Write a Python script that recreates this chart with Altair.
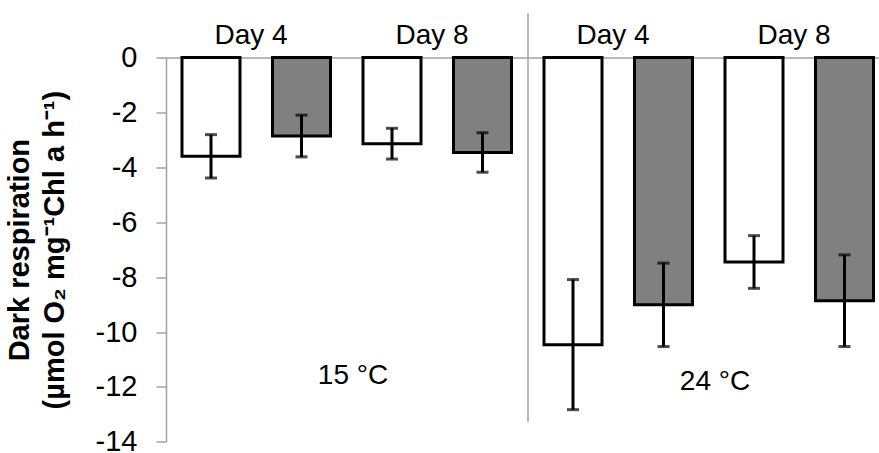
import altair as alt
import pandas as pd

# Dark respiration per temperature, sampling day and treatment
temps = ["15", "15", "15", "15", "24", "24", "24", "24"]
days = ["Day 4", "Day 4", "Day 8", "Day 8", "Day 4", "Day 4", "Day 8", "Day 8"]
treatments = ["Control", "Treated", "Control", "Treated", "Control", "Treated", "Control", "Treated"]
means = [-3.60, -2.86, -3.14, -3.46, -10.46, -9.01, -7.45, -8.86]
sds = [0.79, 0.76, 0.56, 0.72, 2.37, 1.52, 0.96, 1.67]

group_order = ["15|Day 4", "15|Day 8", "24|Day 4", "24|Day 8"]
treatment_order = ["Control", "Treated"]
bar_colors = ["#ffffff", "#808080"]

temp_labels = ["15 °C", "24 °C"]
temp_label_groups = ["15|Day 8", "24|Day 8"]
temp_label_y = [-11.9, -12.1]

df = pd.DataFrame({
    "temp": temps,
    "day": days,
    "treatment": treatments,
    "mean": means,
    "sd": sds,
})
df["group"] = df["temp"] + "|" + df["day"]

labels_df = pd.DataFrame({"label": temp_labels, "group": temp_label_groups, "y": temp_label_y})

FONT = "Liberation Sans"
AXIS_GRAY = "#a0a0a0"

x_scale = alt.Scale(domain=group_order, paddingInner=0.0608, paddingOuter=0, align=0)
y_scale = alt.Scale(domain=[-14, 0], nice=False, zero=False)
offset_scale = alt.Scale(domain=treatment_order, paddingInner=0.359, paddingOuter=0.1188, align=0.744)

x_enc = alt.X(
    "group:N",
    sort=group_order,
    scale=x_scale,
    title=None,
    axis=alt.Axis(
        orient="top",
        labelExpr="split(datum.label, '|')[1]",
        labelAngle=0,
        labelFont=FONT,
        labelFontSize=28,
        labelColor="black",
        labelBaseline="alphabetic",
        labelPadding=14,
        ticks=False,
        tickSize=0,
        domainColor=AXIS_GRAY,
        domainWidth=1.5,
        grid=False,
    ),
)
xoff_enc = alt.XOffset("treatment:N", sort=treatment_order, scale=offset_scale)

base = alt.Chart(df).transform_calculate(
    lower="datum.mean - datum.sd",
    upper="datum.mean + datum.sd",
)

bars = base.mark_bar(stroke="black", strokeWidth=3).encode(
    x=x_enc,
    xOffset=xoff_enc,
    y=alt.Y(
        "mean:Q",
        scale=y_scale,
        title=["Dark respiration", "(µmol O₂ mg⁻¹Chl a h⁻¹)"],
        axis=alt.Axis(
            values=list(range(-14, 1, 2)),
            labelExpr="'' + datum.value",
            labelFont=FONT,
            labelFontSize=29,
            labelColor="black",
            labelPadding=19,
            tickSize=10,
            tickColor=AXIS_GRAY,
            tickWidth=1.5,
            domainColor=AXIS_GRAY,
            domainWidth=1.5,
            grid=False,
            titleFont=FONT,
            titleFontSize=29,
            titleFontWeight="bold",
            titleColor="black",
            titleLineHeight=35,
            titleX=-132,
        ),
    ),
    y2=alt.datum(0),
    color=alt.Color("treatment:N", sort=treatment_order,
                    scale=alt.Scale(domain=treatment_order, range=bar_colors), legend=None),
)

err_line = base.mark_rule(color="black", strokeWidth=3).encode(
    x=alt.X("group:N", sort=group_order),
    xOffset=xoff_enc,
    y="lower:Q",
    y2="upper:Q",
)
cap_low = base.mark_tick(color="black", thickness=3, size=12).encode(
    x=alt.X("group:N", sort=group_order),
    xOffset=xoff_enc,
    y="lower:Q",
)
cap_high = base.mark_tick(color="black", thickness=3, size=12).encode(
    x=alt.X("group:N", sort=group_order),
    xOffset=xoff_enc,
    y="upper:Q",
)

# vertical separator between the two temperatures
divider = alt.Chart(pd.DataFrame({"k": [0]})).mark_rule(color=AXIS_GRAY, strokeWidth=1.5).encode(
    x=alt.XDatum("24|Day 4", type="nominal", bandPosition=0),
    y=alt.datum(1.6),
    y2=alt.datum(-13.27),
)

temp_text = alt.Chart(labels_df).mark_text(
    font=FONT, fontSize=28, color="black", align="center", baseline="alphabetic", dx=6
).encode(
    x=alt.X("group:N", sort=group_order, bandPosition=0),
    y="y:Q",
    text="label:N",
)

chart = (
    alt.layer(bars, err_line, cap_low, cap_high, divider, temp_text)
    .properties(
        width=713,
        height=384.3,
        autosize=alt.AutoSizeParams(type="none"),
        padding={"left": 166, "top": 57.5, "right": 0, "bottom": 11.2},
        background="white",
    )
    .configure_view(stroke=None)
)

chart.save("out.html", embed_options={"renderer": "svg", "actions": False})
